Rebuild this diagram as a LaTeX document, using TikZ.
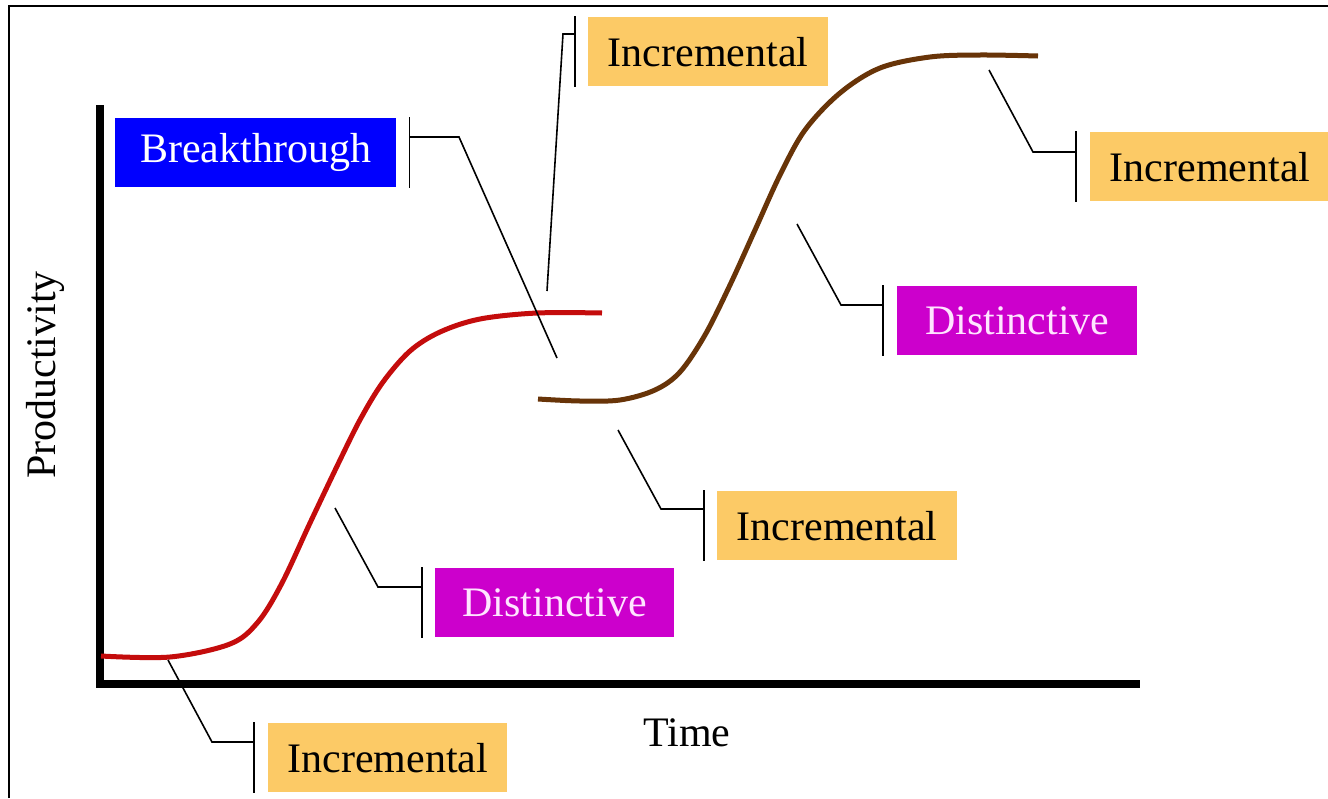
\documentclass[tikz,border=0pt]{standalone}
\usepackage{fontspec}
\setmainfont{LiberationSerif}[Extension=.ttf, UprightFont=*-Regular, BoldFont=*-Bold, ItalicFont=*-Italic, BoldItalicFont=*-BoldItalic]
\definecolor{incfill}{RGB}{252,202,102}
\definecolor{disfill}{RGB}{204,0,204}
\definecolor{distext}{RGB}{255,228,255}
\definecolor{brkfill}{RGB}{0,0,255}
\definecolor{redc}{RGB}{196,12,12}
\definecolor{brownc}{RGB}{104,52,8}
\begin{document}
\begin{tikzpicture}[x=1pt,y=-1pt,
  lbl/.style={inner sep=0pt, minimum height=69, minimum width=240, font=\fontsize{42}{50}\selectfont, anchor=north west},
  inc/.style={lbl, fill=incfill, text=black},
  dis/.style={lbl, fill=disfill, text=distext},
  brk/.style={lbl, fill=brkfill, text=white},
  lead/.style={line width=1.6pt, black},
  bar/.style={line width=1.8pt, black},
  axisline/.style={line width=7.5pt, black, line join=miter},
  curvered/.style={line width=5pt, redc, line cap=butt},
  curvebrown/.style={line width=5pt, brownc, line cap=butt},
  frameline/.style={line width=1.5pt, black},
  axlab/.style={font=\fontsize{42}{50}\selectfont, inner sep=0pt}
]
\useasboundingbox (0,0) rectangle (1328,798);
\fill[white] (0,0) rectangle (1328,798);
% frame
\draw[frameline] (9,798) -- (9,6) -- (1328,6);

% axes
\coordinate (ytop) at (100,105);
\coordinate (origin) at (100,684);
\coordinate (xend) at (1140,684);
\draw[axisline] (ytop) -- (origin) -- (xend);
\node[axlab, rotate=90] (ylab) at (45,375) {Productivity};
\node[axlab] (xlab) at (687,733) {Time};

% curves
\draw[curvered] plot[smooth, tension=0.55] coordinates {(101,656) (170,657) (230,644) (258,622) (282,583) (310,523) (340,460) (361,418) (383,382) (410,351) (440,332) (480,319) (537,313) (602,313)};
\draw[curvebrown] plot[smooth, tension=0.55] coordinates {(538,399) (580,401) (620,400) (655,390) (680,372) (705,335) (730,285) (755,230) (780,175) (805,130) (840,93) (880,68) (930,57) (980,55) (1038,56)};

% labels
\node[brk, minimum width=281] (b) at (115,118) {Breakthrough};
\node[inc] (i2) at (588,17) {Incremental};
\node[inc] (i3) at (1090,132) {Incremental};
\node[dis] (d2) at (897,286) {Distinctive};
\node[inc] (i4) at (717,491) {Incremental};
\node[dis, minimum width=239] (d1) at (435,568) {Distinctive};
\node[inc, minimum width=239] (i1) at (268,723) {Incremental};

% brackets
\draw[bar] ([xshift=13pt,yshift=1pt]b.north east) -- ([xshift=13pt,yshift=-1pt]b.south east) coordinate (bb);
\draw[bar] ([xshift=-13pt,yshift=1pt]i2.north west) -- ([xshift=-13pt,yshift=-1pt]i2.south west) coordinate (i2b);
\draw[bar] ([xshift=-14pt,yshift=1pt]i3.north west) -- ([xshift=-14pt,yshift=-1pt]i3.south west) coordinate (i3b);
\draw[bar] ([xshift=-14pt,yshift=1pt]d2.north west) -- ([xshift=-14pt,yshift=-1pt]d2.south west) coordinate (d2b);
\draw[bar] ([xshift=-13pt,yshift=1pt]i4.north west) -- ([xshift=-13pt,yshift=-1pt]i4.south west) coordinate (i4b);
\draw[bar] ([xshift=-13pt,yshift=1pt]d1.north west) -- ([xshift=-13pt,yshift=-1pt]d1.south west) coordinate (d1b);
\draw[bar] ([xshift=-14pt,yshift=1pt]i1.north west) -- ([xshift=-14pt,yshift=-1pt]i1.south west) coordinate (i1b);

% leader lines
\coordinate (btip) at (557,358);  \coordinate (belb) at (459,137);
\coordinate (i2tip) at (547,291); \coordinate (i2elb) at (563,34);
\coordinate (i3tip) at (989,70);  \coordinate (i3elb) at (1033,152);
\coordinate (d2tip) at (797,224); \coordinate (d2elb) at (841,305);
\coordinate (i4tip) at (618,430); \coordinate (i4elb) at (661,509);
\coordinate (d1tip) at (335,508); \coordinate (d1elb) at (378,587);
\coordinate (i1tip) at (168,660); \coordinate (i1elb) at (212,742);

\draw[lead] (btip) -- (belb) -- (belb -| bb);
\draw[lead] (i2tip) -- (i2elb) -- (i2elb -| i2b);
\draw[lead] (i3tip) -- (i3elb) -- (i3elb -| i3b);
\draw[lead] (d2tip) -- (d2elb) -- (d2elb -| d2b);
\draw[lead] (i4tip) -- (i4elb) -- (i4elb -| i4b);
\draw[lead] (d1tip) -- (d1elb) -- (d1elb -| d1b);
\draw[lead] (i1tip) -- (i1elb) -- (i1elb -| i1b);
\end{tikzpicture}
\end{document}
